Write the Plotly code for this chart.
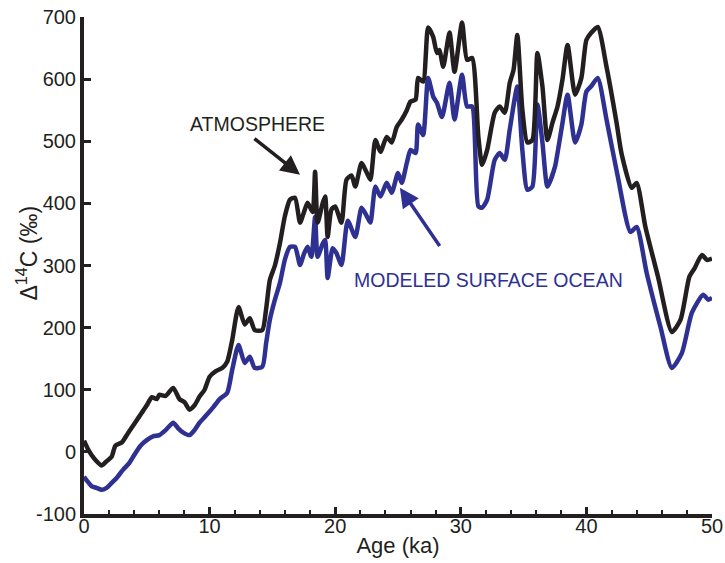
import plotly.graph_objects as go

# Age axis (ka) and Δ14C (‰) for the atmospheric record
atm_age = [0.0, 0.3, 0.6, 1.0, 1.4, 1.8, 2.2, 2.5, 3.0, 3.5, 4.0, 4.6, 5.0, 5.4, 5.8, 6.0,
           6.5, 7.1, 7.6, 8.0, 8.4, 8.8, 9.2, 9.6, 10.0, 10.5, 11.0, 11.4, 11.8, 12.3, 12.8,
           13.2, 13.6, 14.2, 14.5, 14.8, 15.2, 15.6, 16.0, 16.4, 16.8, 17.2, 17.5, 17.8,
           18.2, 18.4, 18.6, 19.0, 19.2, 19.4, 19.7, 20.0, 20.5, 20.9, 21.3, 21.6, 22.1,
           22.5, 22.8, 23.2, 23.6, 24.1, 24.5, 24.9, 25.3, 25.7, 26.0, 26.4, 26.6, 27.0,
           27.4, 27.8, 28.1, 28.3, 28.6, 29.1, 29.5, 30.1, 30.5, 30.9, 31.4, 31.7, 32.1,
           32.7, 33.1, 33.5, 33.9, 34.2, 34.5, 34.9, 35.3, 35.7, 36.1, 36.5, 36.9, 37.3,
           37.7, 38.1, 38.5, 39.1, 39.6, 40.0, 40.4, 40.9, 41.6, 42.4, 42.8, 43.6, 44.0,
           44.7, 45.7, 46.8, 47.5, 48.2, 48.6, 49.2, 49.6, 50.0]
atm_d14c = [18, 5, -5, -15, -22, -15, -8, 10, 15, 30, 45, 63, 75, 88, 85, 92,
            90, 103, 85, 80, 68, 75, 89, 100, 121, 130, 135, 145, 180, 233, 205,
            215, 196, 196, 230, 277, 300, 336, 380, 406, 409, 369, 385, 401,
            386, 451, 369, 400, 411, 346, 390, 395, 369, 438, 445, 427, 465,
            450, 438, 502, 483, 507, 498, 523, 535, 550, 564, 567, 602, 596,
            683, 668, 642, 647, 620, 675, 612, 691, 631, 634, 507, 462, 486,
            546, 556, 546, 594, 615, 671, 551, 498, 502, 642, 588, 502, 530,
            556, 600, 655, 575, 602, 663, 675, 684, 620, 530, 480, 425, 433,
            362, 282, 193, 213, 282, 295, 317, 309, 311]

# Modelled surface-ocean Δ14C (‰)
ocn_age = [0.0, 0.3, 0.6, 1.0, 1.4, 1.8, 2.2, 2.6, 3.1, 3.6, 4.0, 4.5, 5.0, 5.5, 6.0, 6.5,
           7.1, 7.5, 7.9, 8.4, 8.8, 9.2, 9.7, 10.3, 10.8, 11.4, 11.8, 12.3, 12.8, 13.2,
           13.6, 14.2, 14.5, 14.8, 15.2, 15.6, 16.0, 16.4, 16.8, 17.2, 17.5, 17.8, 18.1,
           18.4, 18.6, 19.0, 19.2, 19.4, 19.8, 20.1, 20.5, 21.0, 21.6, 22.1, 22.5, 22.8,
           23.2, 23.6, 24.1, 24.5, 25.0, 25.3, 25.7, 26.0, 26.4, 26.6, 27.0, 27.4, 27.8,
           28.1, 28.5, 29.1, 29.5, 30.1, 30.5, 30.9, 31.4, 31.7, 32.1, 32.7, 33.1, 33.5,
           33.9, 34.5, 34.9, 35.3, 35.7, 36.1, 36.5, 36.9, 37.5, 37.7, 38.1, 38.5, 39.1,
           39.6, 40.0, 40.4, 40.9, 41.6, 42.5, 43.5, 44.0, 44.8, 45.9, 46.8, 47.6, 48.4,
           49.3, 49.7, 50.0]
ocn_d14c = [-40, -48, -55, -58, -61, -58, -50, -42, -29, -18, -5, 10, 19, 25, 27, 35,
            47, 38, 31, 27, 35, 47, 58, 72, 85, 95, 132, 172, 143, 153,
            135, 137, 175, 213, 245, 272, 310, 330, 330, 301, 318, 330, 314,
            378, 314, 335, 341, 280, 328, 320, 301, 372, 346, 393, 380, 369,
            427, 411, 433, 417, 449, 433, 465, 486, 481, 527, 510, 602, 572,
            562, 539, 594, 535, 607, 556, 556, 395, 393, 406, 470, 481, 470,
            519, 588, 486, 422, 427, 559, 498, 427, 459, 481, 530, 575, 498,
            527, 580, 589, 602, 535, 443, 354, 362, 288, 201, 135, 159, 224,
            253, 245, 248]

x_ticks = [0, 10, 20, 30, 40, 50]
y_ticks = [-100, 0, 100, 200, 300, 400, 500, 600, 700]
y_tick_text = ["-100", "0", "100", "200", "300", "400", "500", "600", "700"]

INK = "#231f20"
BLUE = "#2e3192"
FONT = "Liberation Sans, Arial, Helvetica, sans-serif"

fig = go.Figure()
fig.add_trace(go.Scatter(x=ocn_age, y=ocn_d14c, mode="lines",
                         line=dict(color=BLUE, width=4.5, shape="spline", smoothing=0.6),
                         name="Modeled surface ocean"))
fig.add_trace(go.Scatter(x=atm_age, y=atm_d14c, mode="lines",
                         line=dict(color=INK, width=4.5, shape="spline", smoothing=0.6),
                         name="Atmosphere"))

# Labels with arrows pointing at each curve
fig.add_annotation(x=17.2, y=446, ax=13.45, ay=506, xref="x", yref="y", axref="x", ayref="y",
                   showarrow=True, arrowhead=2, arrowsize=1.1, arrowwidth=3.5,
                   arrowcolor=INK, text="")
fig.add_annotation(x=13.8, y=528, xref="x", yref="y", text="ATMOSPHERE", showarrow=False,
                   font=dict(family=FONT, size=19.5, color=INK))
fig.add_annotation(x=25.15, y=425, ax=28.4, ay=329, xref="x", yref="y", axref="x", ayref="y",
                   showarrow=True, arrowhead=2, arrowsize=1.1, arrowwidth=3.5,
                   arrowcolor=BLUE, text="")
fig.add_annotation(x=32.2, y=277, xref="x", yref="y", text="MODELED SURFACE OCEAN",
                   showarrow=False, font=dict(family=FONT, size=19.5, color=BLUE))

# Rotated y-axis title
fig.add_annotation(xref="paper", yref="paper", x=-0.09, y=0.525, textangle=-90,
                   text="Δ<sup>14</sup>C (‰)", showarrow=False,
                   font=dict(family=FONT, size=23, color=INK),
                   xanchor="center", yanchor="middle")

fig.update_layout(
    width=725, height=563,
    margin=dict(l=84, r=13, t=17, b=49),
    paper_bgcolor="white", plot_bgcolor="white",
    showlegend=False,
    font=dict(family=FONT, size=20, color=INK),
)
fig.update_xaxes(range=[0, 50], tickvals=x_ticks, showgrid=False, zeroline=False,
                 automargin=False,
                 showline=True, linecolor=INK, linewidth=4,
                 ticks="inside", ticklen=7, tickwidth=2.5, tickcolor=INK,
                 minor=dict(dtick=2, ticks="inside", ticklen=4, tickwidth=2, tickcolor=INK),
                 ticklabelstandoff=-9,
                 title=dict(text="Age (ka)", font=dict(size=22), standoff=3),
                 tickfont=dict(size=20))
fig.update_yaxes(range=[-100, 700], tickvals=y_ticks, ticktext=y_tick_text,
                 showgrid=False, zeroline=False, automargin=False,
                 showline=True, linecolor=INK, linewidth=4,
                 ticks="inside", ticklen=7, tickwidth=2.5, tickcolor=INK,
                 tickfont=dict(size=20))

fig.write_html("out.html")
